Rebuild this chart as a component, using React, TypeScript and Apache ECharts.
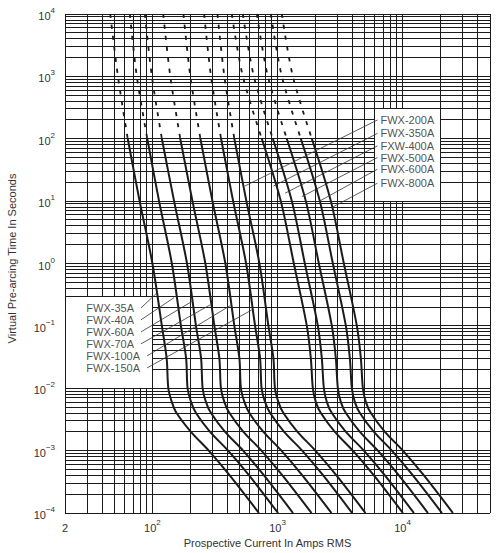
import React, { useEffect, useRef } from 'react';
import * as echarts from 'echarts';

// ---------- data ----------
const X_MIN = 20;
const X_MAX = 50000;
const Y_MIN = 1e-4;
const Y_MAX = 1e4;

// pre-arcing time levels (s) at which each curve's current is read
const times = [1e4, 1e3, 100, 10, 1, 0.1, 0.03, 0.01, 0.006, 0.004, 0.002, 0.001, 4e-4, 1e-4];
const dashedUntil = 2; // indices 0..2 are drawn dashed (1e4 s .. 100 s)

const fuseNames = ['FWX-35A', 'FWX-40A', 'FWX-60A', 'FWX-70A', 'FWX-100A', 'FWX-150A',
  'FWX-200A', 'FWX-350A', 'FXW-400A', 'FWX-500A', 'FWX-600A', 'FWX-800A'];

// prospective current (A rms) at each time level
const fwx35 = [46, 53, 63.5, 79, 100, 119, 130, 134, 143, 156, 203, 282, 415, 710];
const fwx40 = [66, 75, 91, 113, 143, 169, 186, 191, 204, 223, 289, 403, 593, 1010];
const fwx60 = [87, 99, 119, 149, 189, 223, 245, 252, 268, 294, 381, 531, 780, 1330];
const fwx70 = [122, 139, 167, 209, 265, 313, 343, 353, 376, 413, 534, 744, 1095, 1870];
const fwx100 = [177, 201, 242, 302, 383, 452, 496, 510, 544, 596, 772, 1075, 1580, 2700];
const fwx150 = [259, 294, 354, 442, 561, 662, 726, 746, 796, 873, 1130, 1575, 2320, 3950];
const fwx200 = [331, 376, 452, 564, 717, 846, 928, 954, 1017, 1115, 1445, 2010, 2960, 5050];
const fwx350 = [431, 528, 749, 1063, 1351, 1716, 1848, 1917, 2026, 2221, 2874, 4005, 5900, 10060];
const fxw400 = [528, 647, 918, 1302, 1654, 2102, 2262, 2348, 2481, 2720, 3521, 4905, 7220, 12320];
const fwx500 = [684, 837, 1187, 1685, 2141, 2720, 2928, 3038, 3211, 3521, 4557, 6345, 9346, 15940];
const fwx600 = [884, 1083, 1537, 2181, 2771, 3521, 3790, 3932, 4155, 4557, 5897, 8214, 12090, 20640];
const fwx800 = [1083, 1326, 1882, 2671, 3393, 4311, 4641, 4815, 5089, 5580, 7221, 10060, 14810, 25270];
const curves = [fwx35, fwx40, fwx60, fwx70, fwx100, fwx150, fwx200, fwx350, fxw400, fwx500, fwx600, fwx800];

// leader lines: label anchor [A, s] and point on curve [A, s]
const leftLabelAnchors = [[81, 0.194], [81, 0.125], [81, 0.08], [81, 0.0515], [90.6, 0.033], [90.6, 0.0212]];
const leftLabelTargets = [[108, 0.334], [149, 0.284], [206, 0.245], [289, 0.217], [418, 0.211], [623, 0.18]];
const rightLabelAnchors = [[6300, 200], [6300, 122], [6300, 77], [6300, 50], [6300, 32.5], [6300, 19.4]];
const rightLabelTargets = [[550, 17.5], [930, 17.5], [1150, 13.4], [1565, 11.8], [2125, 9.8], [2720, 7.9]];

// white label boxes: [A1, s1, A2, s2]
const labelBoxes = [[20, 0.3, 100, 0.01], [6000, 300, 20000, 10]];

// log grid
const gridMultipliers = [1, 2, 3, 4, 5, 6, 7, 8, 9];
const xDecades = [10, 100, 1000, 10000];
const yDecades = [1e-4, 1e-3, 1e-2, 1e-1, 1, 10, 100, 1000];

const FONT = '"Liberation Sans", Arial, Helvetica, sans-serif';
const INK = '#1b1b1b';

function buildGrid() {
  const xs: number[] = [];
  xDecades.forEach((d) => gridMultipliers.forEach((m) => {
    const v = d * m;
    if (v >= X_MIN - 1e-9 && v <= X_MAX + 1e-9) xs.push(v);
  }));
  const ys: number[] = [];
  yDecades.forEach((d) => gridMultipliers.forEach((m) => ys.push(d * m)));
  ys.push(Y_MAX);
  return [
    ...xs.map((v) => [v, Y_MIN, 0]),
    ...ys.map((v) => [X_MIN, v, 1]),
  ];
}

const crisp = (n: number) => Math.round(n - 0.5) + 0.5;

function powLabel(v: number): string {
  const e = Math.round(Math.log10(v));
  const p = Math.pow(10, e);
  if (Math.abs(v - p) / p > 1e-6) return '';
  const s = e < 0 ? '\u2212' + -e : String(e);
  return `{b|10}{s|${s}}`;
}

const rich = {
  b: { fontSize: 11, lineHeight: 15, color: '#333', fontFamily: FONT, verticalAlign: 'bottom' },
  s: { fontSize: 8, lineHeight: 9, color: '#333', fontFamily: FONT, verticalAlign: 'top' },
};

export default function App() {
  const ref = useRef<HTMLDivElement>(null);
  useEffect(() => {
    document.body.style.margin = '0';
    if (!ref.current) return;
    const chart = echarts.init(ref.current, undefined, { renderer: 'svg' });

    const series: any[] = [];

    series.push({
      type: 'custom',
      name: 'grid',
      z: 1,
      silent: true,
      data: buildGrid(),
      encode: { x: 0, y: 1 },
      renderItem: (_p: any, api: any) => {
        const kind = api.value(2);
        if (kind === 0) {
          const v = api.value(0);
          const a = api.coord([v, Y_MAX]);
          const b = api.coord([v, Y_MIN]);
          const x = crisp(a[0]);
          return { type: 'line', shape: { x1: x, y1: a[1], x2: x, y2: b[1] }, style: { stroke: INK, lineWidth: 1 } };
        }
        const v = api.value(1);
        const a = api.coord([X_MIN, v]);
        const b = api.coord([X_MAX, v]);
        const y = crisp(a[1]);
        return { type: 'line', shape: { x1: a[0], y1: y, x2: b[0], y2: y }, style: { stroke: INK, lineWidth: 1 } };
      },
    });

    series.push({
      type: 'custom',
      name: 'boxes',
      z: 2,
      silent: true,
      data: labelBoxes,
      encode: { x: [0, 2], y: [1, 3] },
      renderItem: (_p: any, api: any) => {
        const a = api.coord([api.value(0), api.value(1)]);
        const b = api.coord([api.value(2), api.value(3)]);
        const x1 = crisp(Math.min(a[0], b[0])) + 0.5;
        const x2 = crisp(Math.max(a[0], b[0])) - 0.5;
        const y1 = crisp(Math.min(a[1], b[1])) + 0.5;
        const y2 = crisp(Math.max(a[1], b[1])) - 0.5;
        return { type: 'rect', shape: { x: x1, y: y1, width: x2 - x1, height: y2 - y1 }, style: { fill: '#ffffff' } };
      },
    });

    curves.forEach((cur, ci) => {
      const pts = times.map((t, i) => [cur[i], t]);
      series.push({
        type: 'line',
        name: fuseNames[ci] + ' (dashed)',
        z: 3,
        data: pts.slice(0, dashedUntil + 1),
        symbol: 'none',
        smooth: 0.3,
        lineStyle: { color: INK, width: 1.8, type: [4, 7] },
      });
      series.push({
        type: 'line',
        name: fuseNames[ci],
        z: 3,
        data: pts.slice(dashedUntil),
        symbol: 'none',
        smooth: 0.3,
        lineStyle: { color: INK, width: 2 },
      });
    });

    const leaders = [
      ...leftLabelAnchors.map((a, i) => ({ coords: [a, leftLabelTargets[i]] })),
      ...rightLabelAnchors.map((a, i) => ({ coords: [a, rightLabelTargets[i]] })),
    ];
    series.push({
      type: 'lines',
      coordinateSystem: 'cartesian2d',
      z: 4,
      silent: true,
      data: leaders,
      lineStyle: { color: '#333', width: 0.8, opacity: 1, curveness: 0 },
      symbol: 'none',
    });

    series.push({
      type: 'scatter',
      name: 'leftLabels',
      z: 5,
      symbolSize: 0,
      silent: true,
      data: leftLabelAnchors.map((a, i) => ({ value: a, name: fuseNames[i] })),
      label: {
        show: true, position: 'left', distance: 7, formatter: '{b}',
        fontSize: 11, fontFamily: FONT, color: '#222',
      },
    });
    series.push({
      type: 'scatter',
      name: 'rightLabels',
      z: 5,
      symbolSize: 0,
      silent: true,
      data: rightLabelAnchors.map((a, i) => ({ value: a, name: fuseNames[i + 6] })),
      label: {
        show: true, position: 'right', distance: 3, formatter: '{b}',
        fontSize: 11, fontFamily: FONT, color: '#222',
      },
    });

    chart.setOption({
      animation: false,
      backgroundColor: '#ffffff',
      grid: { left: 65, right: 8, top: 14, bottom: 40, containLabel: false, outerBoundsMode: 'none' },
      xAxis: {
        type: 'log',
        logBase: 10,
        min: X_MIN,
        max: X_MAX,
        axisLine: { show: false },
        axisTick: { show: false },
        splitLine: { show: false },
        axisLabel: {
          margin: 5,
          formatter: (v: number) => {
            if (Math.abs(v - 20) < 0.5) return '{b|2}';
            if (v > 20000) return '';
            return powLabel(v);
          },
          rich,
        },
        name: 'Prospective Current In Amps RMS',
        nameLocation: 'middle',
        nameGap: 22,
        nameTextStyle: { fontSize: 11, fontFamily: FONT, color: '#333', padding: [0, 20, 0, 0] },
      },
      yAxis: {
        type: 'log',
        logBase: 10,
        min: Y_MIN,
        max: Y_MAX,
        splitNumber: 8,
        axisLine: { show: false },
        axisTick: { show: false },
        splitLine: { show: false },
        axisLabel: { margin: 10, formatter: (v: number) => powLabel(v), rich },
        name: 'Virtual Pre-arcing Time In Seconds',
        nameLocation: 'middle',
        nameGap: 48,
        nameTextStyle: { fontSize: 11, fontFamily: FONT, color: '#333', padding: [0, 0, 0, 10] },
      },
      series,
    });

    return () => chart.dispose();
  }, []);

  return <div ref={ref} style={{ width: 498, height: 553 }} />;
}
